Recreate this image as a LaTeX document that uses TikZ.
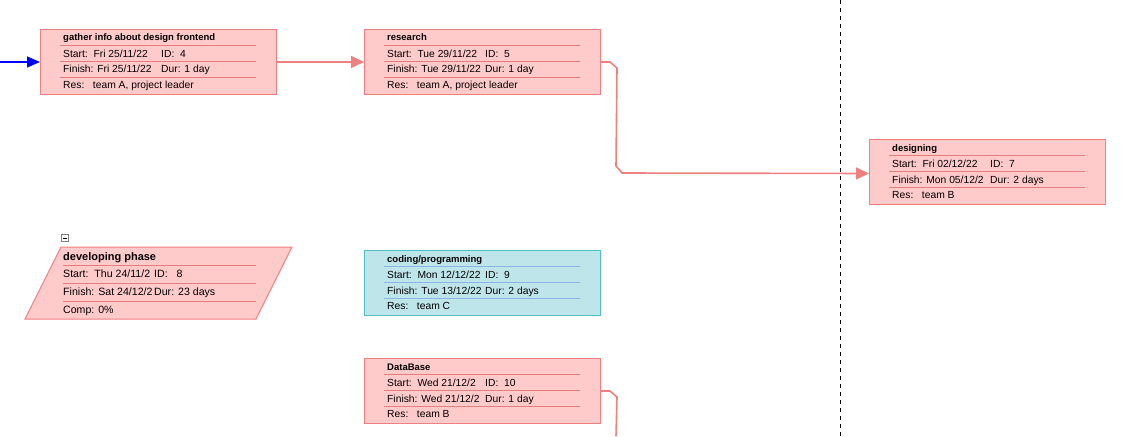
\documentclass[tikz,border=0pt]{standalone}
\usepackage{fontspec}
\setmainfont{Liberation Sans}
\usetikzlibrary{arrows.meta,calc}
\definecolor{pinkfill}{RGB}{255,202,202}
\definecolor{pinkline}{RGB}{240,128,128}
\definecolor{pinksep}{RGB}{230,125,125}
\definecolor{tealfill}{RGB}{190,230,234}
\definecolor{tealline}{RGB}{80,190,198}
\definecolor{bluesep}{RGB}{140,180,226}
\definecolor{arrowblue}{RGB}{0,0,255}
\tikzset{
  pinkbox/.style={draw=pinkline, fill=pinkfill},
  tealbox/.style={draw=tealline, fill=tealfill},
  taskrect/.style={line width=1pt, minimum width=236pt, minimum height=65pt, inner sep=0pt, anchor=north west},
  pinkrule/.style={draw=pinksep, line width=0.8pt},
  bluerule/.style={draw=bluesep, line width=0.8pt},
  txt/.style={anchor=base west, inner sep=0pt, font=\fontsize{10.3}{12}\selectfont},
  titletxt/.style={anchor=base west, inner sep=0pt, font=\fontsize{9.5}{11}\selectfont\bfseries},
  bigtxt/.style={anchor=base west, inner sep=0pt, font=\fontsize{10.6}{13}\selectfont},
  bigtitle/.style={anchor=base west, inner sep=0pt, font=\fontsize{11}{13}\selectfont\bfseries},
  pinkconn/.style={draw=pinkline, line width=1.6pt, -{Triangle[length=13pt,width=12pt]}},
  blueconn/.style={draw=arrowblue, line width=1.2pt, -{Triangle[length=13pt,width=11pt]}},
  sepline/.style={draw=black, line width=1pt, dash pattern=on 4pt off 4pt},
}
\newcommand{\boxkind}{pinkbox}
\newcommand{\rulekind}{pinkrule}
% #1 name, #2 x, #3 y, #4 title, #5 start, #6 id, #7 finish, #8 dur, #9 res
\newcommand{\taskbox}[9]{%
  \node[taskrect,\boxkind] (#1) at (#2,#3) {};
  \foreach \k in {16,32,48} \draw[\rulekind] ($(#1.north west)+(20,\k)$) -- ++(196,0);
  \node[titletxt] (#1-title) at ($(#1.north west)+(23,12)$) {#4};
  \begin{scope}
    \clip ($(#1.north west)+(20,17)$) rectangle ($(#1.north west)+(119,47)$);
    \node[txt] (#1-start) at ($(#1.north west)+(23,28)$) {Start:\ \ #5};
    \node[txt] (#1-finish) at ($(#1.north west)+(23,44)$) {Finish: #7};
  \end{scope}
  \node[txt] (#1-id) at ($(#1.north west)+(121,28)$) {ID:\ \ #6};
  \node[txt] (#1-dur) at ($(#1.north west)+(121,44)$) {Dur: #8};
  \node[txt] (#1-res) at ($(#1.north west)+(23,59)$) {Res:\ \ \ #9};
}
\begin{document}
\begin{tikzpicture}[x=1pt,y=-1pt]
\useasboundingbox (0,0) rectangle (1142,436);
\fill[white] (0,0) rectangle (1142,436);

% dashed separator
\coordinate (dtop) at (840,0);
\coordinate (dbot) at (840,436);
\draw[sepline] (dtop) -- (dbot);

\taskbox{gather}{40}{29}{gather info about design frontend}{Fri 25/11/22}{4}{Fri 25/11/22}{1 day}{team A, project leader}
\taskbox{research}{364}{29}{research}{Tue 29/11/22}{5}{Tue 29/11/22}{1 day}{team A, project leader}
\taskbox{designing}{869}{139}{designing}{Fri 02/12/22}{7}{Mon 05/12/2}{2 days}{team B}
\taskbox{database}{364}{358}{DataBase}{Wed 21/12/2}{10}{Wed 21/12/2}{1 day}{team B}
\renewcommand{\boxkind}{tealbox}
\renewcommand{\rulekind}{bluerule}
\taskbox{coding}{364}{250}{coding/programming}{Mon 12/12/22}{9}{Tue 13/12/22}{2 days}{team C}

% summary task (parallelogram)
\coordinate (dp1) at (61,247);
\coordinate (dp2) at (292,247);
\coordinate (dp3) at (256,319);
\coordinate (dp4) at (25,319);
\draw[pinkbox, line width=1pt] (dp1) -- (dp2) -- (dp3) -- (dp4) -- cycle;
\foreach \k in {265,283,301} \draw[pinkrule] (63,\k) -- (256,\k);
\node[bigtitle] (dev-title) at (63,260) {developing phase};
\begin{scope}
  \clip (60,266) rectangle (152,300);
  \node[bigtxt] (dev-start) at (63,277) {Start:\ \ Thu 24/11/2};
  \node[bigtxt] (dev-finish) at (63,295) {Finish: Sat 24/12/2};
\end{scope}
\node[bigtxt] (dev-id) at (154,277) {ID:\ \ \ 8};
\node[bigtxt] (dev-dur) at (154,295) {Dur: 23 days};
\node[bigtxt] (dev-comp) at (63,313) {Comp: 0\%};
\node[draw=gray, fill=white, line width=0.6pt, minimum size=7pt, inner sep=0pt] (collapse) at (65,238) {};
\draw[black, line width=0.8pt] ($(collapse.west)+(1.5,0)$) -- ($(collapse.east)+(-1.5,0)$);

% connectors
\coordinate (src) at (0,62);
\draw[blueconn] (src) -- (gather.west |- src);
\draw[pinkconn] (gather.east |- src) -- (research.west |- src);
\draw[pinkconn] (research.east |- src) -- ++(9,0) -- ++(7,6) -- (616,166) -- (622,173) -- ($(designing.west)+(0,1.5)$);
\coordinate (dbend) at (616,436);
\draw[pinkconn, -] (database.east) -- ++(9,0) -- ++(7,6) -- (dbend);
\end{tikzpicture}
\end{document}
